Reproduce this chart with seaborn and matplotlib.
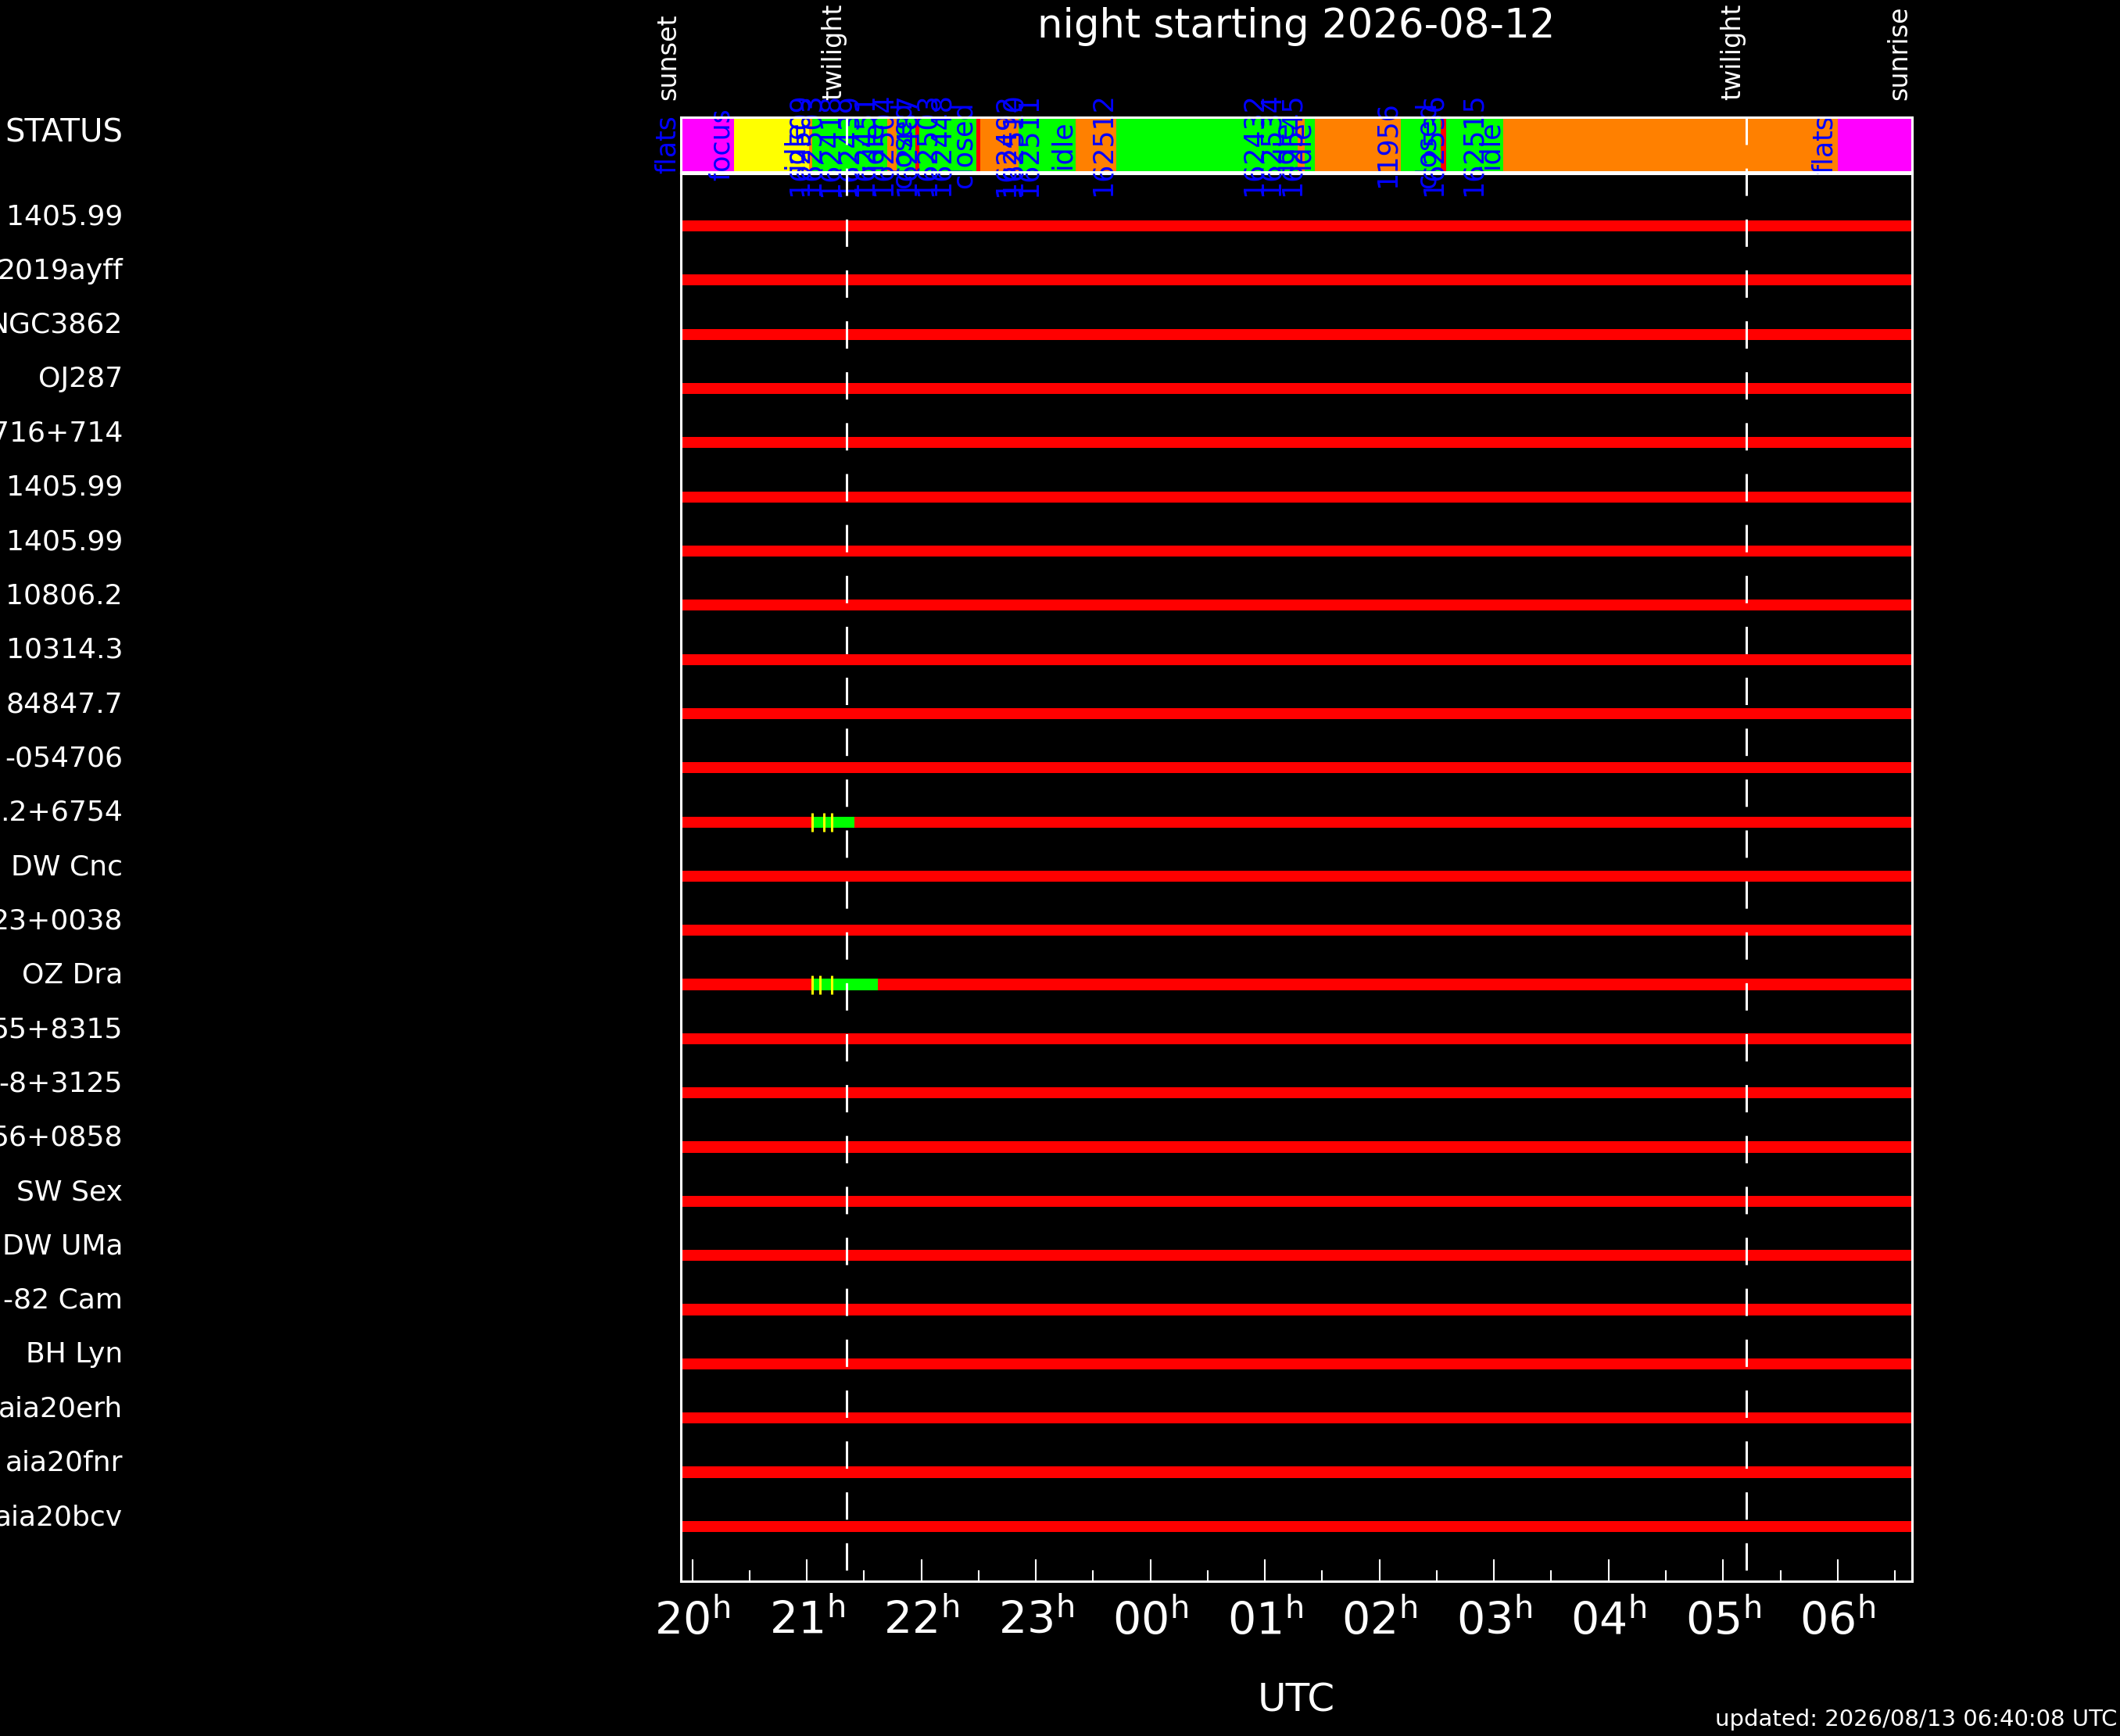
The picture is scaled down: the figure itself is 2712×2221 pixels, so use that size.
import numpy as np
import pandas as pd
import seaborn as sns
import matplotlib.pyplot as plt
import matplotlib.transforms as mtransforms
from matplotlib.lines import Line2D

# night / sun events (UTC)
night = '2026-08-12'
updated = '2026/08/13 06:40:08 UTC'
sunset, twilight_eve, twilight_morn, sunrise = '19:54', '21:21', '05:12', '06:39'

targets = ['1405.99', '2019ayff', 'NGC3862', 'OJ287', '716+714', '1405.99', '1405.99',
           '10806.2', '10314.3', '84847.7', '-054706', '.2+6754', 'DW Cnc', '23+0038',
           'OZ Dra', '55+8315', '-8+3125', '56+0858', 'SW Sex', 'DW UMa', '-82 Cam',
           'BH Lyn', 'aia20erh', 'aia20fnr', 'aia20bcv']

# telescope status timeline
status_start = ['19:54', '20:22', '21:01', '21:03', '21:09', '21:19', '21:29', '21:37', '21:42',
                '21:47', '21:57', '21:59', '22:10', '22:17', '22:29', '22:31', '22:51', '22:55',
                '23:03', '23:21', '23:42', '01:01', '01:10', '01:17', '01:21', '01:26', '02:11',
                '02:32', '02:35', '02:56', '03:05', '06:00']
status_state = ['flats', 'focus', 'idle', 'obs', 'obs', 'obs', 'obs', 'obs', 'idle',
                'obs', 'closed', 'obs', 'obs', 'obs', 'closed', 'idle', 'obs', 'obs',
                'obs', 'idle', 'obs', 'obs', 'obs', 'idle', 'obs', 'idle', 'obs',
                'closed', 'obs', 'obs', 'idle', 'flats']
status_label = ['flats', 'focus', 'idle', '162509', '162503', '162418', '162439', '162451', 'idle',
                '162504', 'closed', '162487', '162503', '162448', 'closed', '', '162492', '162510',
                '162511', 'idle', '162512', '162432', '162534', 'idle', '162545', 'idle', '11956',
                'closed', '162536', '162515', 'idle', 'flats']
state_colors = {'flats': '#ff00ff', 'focus': '#ffff00', 'idle': '#ff8000',
                'obs': '#00ff00', 'closed': '#ff0000'}

# observed windows per target row and exposure marks
obs_row = [11, 14]
obs_start = ['21:03', '21:03']
obs_end = ['21:25', '21:37']
exp_row = [11, 11, 11, 14, 14, 14]
exp_time = ['21:03', '21:09', '21:13', '21:03', '21:07', '21:13']


def hrs(s):
    h, m = map(int, s.split(':'))
    if h < 12:
        h += 24
    return h + m / 60


sns.set_theme(style='dark', rc={'figure.facecolor': 'black', 'axes.facecolor': 'black',
                                'axes.edgecolor': 'white', 'axes.linewidth': 2.2,
                                'text.color': 'white', 'axes.labelcolor': 'white',
                                'xtick.color': 'white', 'ytick.color': 'white',
                                'axes.grid': False, 'lines.scale_dashes': False})
plt.rcParams['font.family'] = ['DejaVu Sans']
plt.rcParams['mathtext.fontset'] = 'dejavusans'

W, H = 2712, 2221
fig = plt.figure(figsize=(W / 100, H / 100), dpi=100)
left, width = 871 / W, (2446 - 871) / W
ax = fig.add_axes([left, 1 - 2023 / H, width, (2023 - 222) / H])
sx = fig.add_axes([left, 1 - 220 / H, width, 70 / H])

x0, x1 = hrs(sunset), hrs(sunrise)
rows = np.arange(len(targets))

# target bars
ax.barh(rows, x1 - x0, left=x0, height=0.206, color='#ff0000', linewidth=0, zorder=2)
starts = np.array([hrs(t) for t in obs_start])
ends = np.array([hrs(t) for t in obs_end])
ax.barh(obs_row, ends - starts, left=starts, height=0.206, color='#00ff00',
        linewidth=0, zorder=3)
exp = pd.DataFrame({'t': [hrs(t) for t in exp_time], 'row': exp_row})
sns.scatterplot(data=exp, x='t', y='row', marker='|', s=300, color='#ffff00',
                linewidth=2.2, legend=False, zorder=4, ax=ax)

ax.set_xlim(x0, x1)
ax.set_ylim(len(targets) - 1 + 1.01, -0.966)
ax.set_yticks([])
ax.set_ylabel('')
major = np.arange(20, 31)
ax.set_xticks(major)
ax.set_xticklabels([r'$%02d^{\rm h}$' % (h % 24) for h in major])
ax.set_xticks(np.arange(20.5, 31, 1), minor=True)
ax.tick_params(axis='x', which='major', direction='in', length=20, width=1.5,
               bottom=True, top=False, labelsize=41, pad=17)
ax.tick_params(axis='x', which='minor', direction='in', length=10, width=1.5,
               bottom=True, top=False)
ax.set_xlabel('UTC', fontsize=36, labelpad=34)

for i, name in enumerate(targets):
    ax.text(-0.4533, i - 0.17, name, transform=ax.get_yaxis_transform(),
            ha='right', va='center', fontsize=26, color='white', clip_on=False)

# status bar
st = [hrs(t) for t in status_start]
sw = np.diff(st + [x1])
sx.barh(0, sw, left=st, height=1, color=[state_colors[s] for s in status_state],
        linewidth=0, zorder=1)
for t, lab in zip(st, status_label):
    sx.text(t, 0, lab, rotation=90, ha='right', va='center', color='#0000ff',
            fontsize=25, clip_on=False, zorder=3)
sx.set_xlim(x0, x1)
sx.set_ylim(-0.5, 0.5)
sx.set_yticks([])
sx.set_xticks(major)
sx.set_xticks(np.arange(20.5, 31, 1), minor=True)
sx.tick_params(axis='x', which='major', direction='in', length=18, width=1.5,
               top=True, bottom=False, labeltop=False, labelbottom=False)
sx.tick_params(axis='x', which='minor', direction='in', length=9, width=1.5,
               top=True, bottom=False)
sx.text(-0.4533, 0.21, 'STATUS', transform=sx.get_yaxis_transform(),
        ha='right', va='center', fontsize=29, color='white', clip_on=False)
for a in (ax, sx):
    for sp in a.spines.values():
        sp.set_color('white')
        sp.set_linewidth(2.2)
        sp.set_zorder(5)

# sun events
ev_tr = mtransforms.blended_transform_factory(sx.transData, fig.transFigure)
for t, lab in [(sunset, 'sunset'), (twilight_eve, 'twilight'),
               (twilight_morn, 'twilight'), (sunrise, 'sunrise')]:
    sx.text(hrs(t), 1 - 128 / H, lab, rotation=90, ha='right', va='bottom',
            fontsize=24, color='white', transform=ev_tr, clip_on=False)

ln_tr = mtransforms.blended_transform_factory(ax.transData, fig.transFigure)
for t in (twilight_eve, twilight_morn):
    fig.add_artist(Line2D([hrs(t), hrs(t)], [1 - 150 / H, 1 - 2023 / H], transform=ln_tr,
                          color='white', lw=2.2, linestyle=(0, (25.2, 21.7)), zorder=10))

fig.text(left + width / 2, 1 - 48 / H, f'night starting {night}', ha='center',
         va='baseline', fontsize=37, color='white')
fig.text(2708 / W, 1 - 2208 / H, f'updated: {updated}', ha='right', va='baseline',
         fontsize=21, color='white')

fig.savefig('out.png', dpi=100, facecolor='black')
